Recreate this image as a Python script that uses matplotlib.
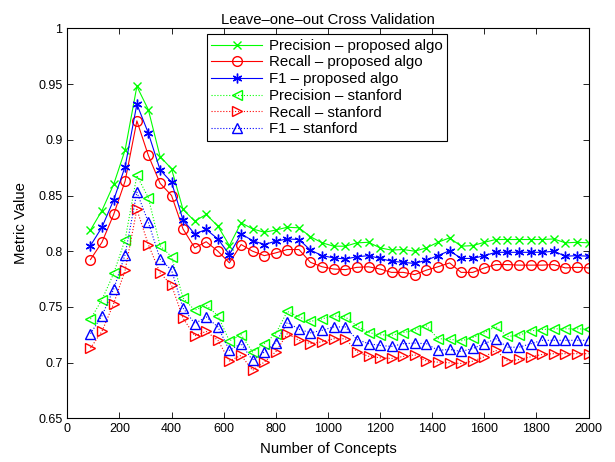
import numpy as np
import matplotlib
matplotlib.use('Agg')
import matplotlib.pyplot as plt
from matplotlib.ticker import FormatStrFormatter

plt.rcParams['font.family'] = ['Liberation Sans', 'DejaVu Sans']
plt.rcParams['font.size'] = 9

concepts = [89, 133, 178, 222, 267, 311, 356, 400, 444, 489, 533, 578, 622, 667,
            711, 756, 800, 844, 889, 933, 978, 1022, 1067, 1111, 1156, 1200, 1244,
            1289, 1333, 1378, 1422, 1467, 1511, 1556, 1600, 1644, 1689, 1733, 1778,
            1822, 1867, 1911, 1956, 2000]

prec_prop = [0.819, 0.8365, 0.860, 0.891, 0.948, 0.927, 0.885, 0.874, 0.8375, 0.827,
             0.833, 0.8225, 0.805, 0.8255, 0.820, 0.817, 0.819, 0.8215, 0.821, 0.813,
             0.8075, 0.8045, 0.8045, 0.8075, 0.808, 0.803, 0.801, 0.8015, 0.800, 0.803,
             0.808, 0.812, 0.8045, 0.805, 0.808, 0.8105, 0.8105, 0.8105, 0.8105, 0.8105,
             0.811, 0.8075, 0.808, 0.8075]
rec_prop = [0.7925, 0.808, 0.833, 0.863, 0.917, 0.886, 0.861, 0.850, 0.820, 0.803,
            0.8085, 0.800, 0.7895, 0.806, 0.800, 0.796, 0.7985, 0.8015, 0.8015, 0.790,
            0.786, 0.784, 0.7835, 0.7855, 0.786, 0.784, 0.781, 0.781, 0.779, 0.783,
            0.786, 0.7895, 0.781, 0.781, 0.785, 0.788, 0.788, 0.7875, 0.7875, 0.7875,
            0.788, 0.785, 0.7855, 0.785]
f1_prop = [0.805, 0.8215, 0.846, 0.876, 0.932, 0.906, 0.873, 0.862, 0.828, 0.8155,
           0.8195, 0.811, 0.797, 0.8155, 0.8095, 0.806, 0.809, 0.811, 0.8105, 0.801,
           0.796, 0.794, 0.793, 0.795, 0.796, 0.7935, 0.791, 0.790, 0.789, 0.792,
           0.796, 0.8005, 0.7935, 0.7935, 0.796, 0.799, 0.799, 0.799, 0.799, 0.799,
           0.800, 0.7955, 0.796, 0.7955]

prec_stan = [0.739, 0.7565, 0.780, 0.8105, 0.868, 0.848, 0.805, 0.795, 0.758, 0.747,
             0.7515, 0.742, 0.7195, 0.725, 0.7095, 0.717, 0.726, 0.746, 0.741, 0.737,
             0.7393, 0.742, 0.741, 0.733, 0.727, 0.725, 0.7245, 0.727, 0.729, 0.733,
             0.7215, 0.721, 0.7195, 0.7225, 0.7267, 0.7325, 0.7235, 0.7245, 0.7285, 0.7297,
             0.7303, 0.7303, 0.7303, 0.730]
rec_stan = [0.713, 0.728, 0.753, 0.783, 0.8375, 0.806, 0.7805, 0.7695, 0.740, 0.724,
            0.728, 0.720, 0.7015, 0.7065, 0.693, 0.7005, 0.7097, 0.726, 0.720, 0.717,
            0.7187, 0.7214, 0.7214, 0.7097, 0.7057, 0.7043, 0.7037, 0.7055, 0.707, 0.7013,
            0.7004, 0.6998, 0.6992, 0.7013, 0.7052, 0.711, 0.7013, 0.7028, 0.7052, 0.7073,
            0.708, 0.708, 0.708, 0.708]
f1_stan = [0.726, 0.742, 0.766, 0.797, 0.853, 0.826, 0.793, 0.783, 0.749, 0.735,
           0.741, 0.732, 0.711, 0.717, 0.702, 0.7095, 0.718, 0.736, 0.730, 0.7267,
           0.729, 0.732, 0.732, 0.7207, 0.717, 0.7154, 0.7145, 0.717, 0.7175, 0.717,
           0.711, 0.7118, 0.710, 0.7127, 0.7169, 0.7214, 0.7138, 0.7138, 0.7169, 0.720,
           0.720, 0.720, 0.720, 0.720]

fig = plt.figure(figsize=(6.15, 4.62), dpi=100)
ax = fig.add_axes([0.1094, 0.0946, 0.8476, 0.8439])

lw = 0.8
ax.plot(concepts, prec_prop, '-', color=(0, 1, 0), lw=lw, marker='x', ms=5.5,
        label='Precision \u2013 proposed algo')
ax.plot(concepts, rec_prop, '-', color=(1, 0, 0), lw=lw, marker='o', ms=7, mfc='none',
        label='Recall \u2013 proposed algo')
ax.plot(concepts, f1_prop, '-', color=(0, 0, 1), lw=lw, marker=(6, 2, 0), ms=7, mew=1.0,
        label='F1 \u2013 proposed algo')
ax.plot(concepts, prec_stan, ':', color=(0, 1, 0), lw=lw, marker='<', ms=7, mfc='none',
        label='Precision \u2013 stanford')
ax.plot(concepts, rec_stan, ':', color=(1, 0, 0), lw=lw, marker='>', ms=7, mfc='none',
        label='Recall \u2013 stanford')
ax.plot(concepts, f1_stan, ':', color=(0, 0, 1), lw=lw, marker='^', ms=7, mfc='none',
        label='F1 \u2013 stanford')

ax.set_xlim(0, 2000)
ax.set_ylim(0.65, 1)
ax.set_xticks(np.arange(0, 2001, 200))
ax.set_yticks(np.arange(0.65, 1.001, 0.05))
ax.yaxis.set_major_formatter(FormatStrFormatter('%g'))
ax.tick_params(direction='in', top=True, right=True, length=4, width=0.6)
for s in ax.spines.values():
    s.set_linewidth(0.8)

ax.set_title('Leave\u2013one\u2013out Cross Validation', fontsize=10.7, pad=3)
ax.set_xlabel('Number of Concepts', fontsize=10.7, labelpad=5)
ax.set_ylabel('Metric Value', fontsize=10.7, labelpad=7)

leg = ax.legend(loc='upper left', bbox_to_anchor=(0.268, 0.985), fancybox=False,
                framealpha=1, edgecolor='black', handlelength=3.4, borderpad=0.3,
                labelspacing=0.18, handletextpad=0.45, borderaxespad=0, fontsize=10.8)
leg.get_frame().set_linewidth(0.8)

fig.savefig('out.png', dpi=100)
